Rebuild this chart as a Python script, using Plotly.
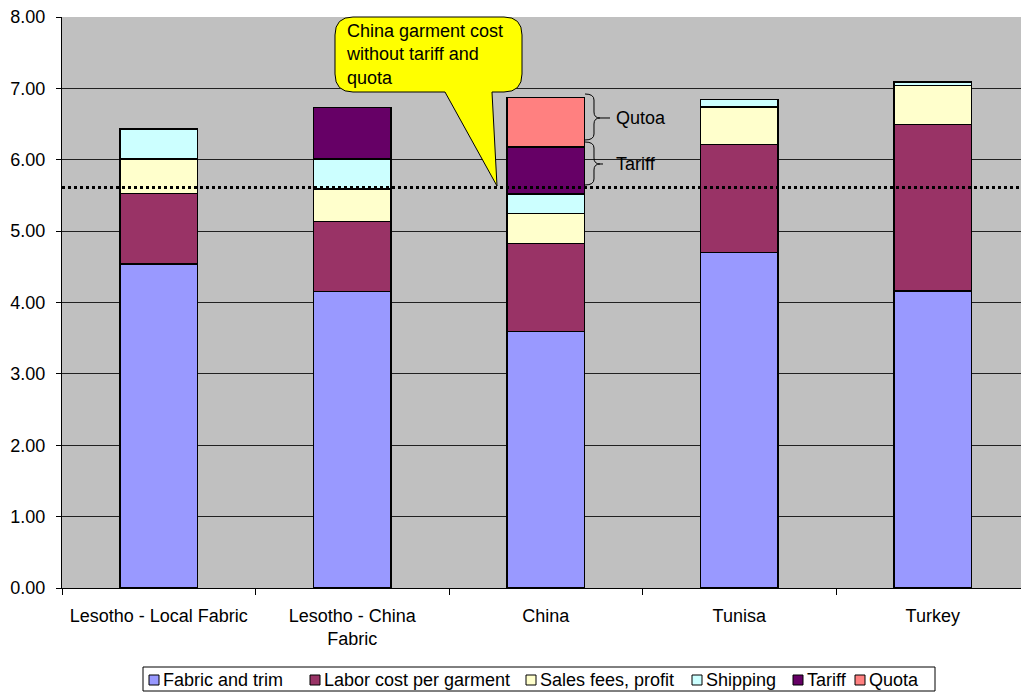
import plotly.graph_objects as go

# ---------------- data ----------------
categories = ["Lesotho - Local Fabric", "Lesotho - China<br>Fabric", "China", "Tunisa", "Turkey"]
series_names = ["Fabric and trim", "Labor cost per garment", "Sales fees, profit",
                "Shipping", "Tariff", "Quota"]
fabric_trim = [4.54, 4.15, 3.59, 4.70, 4.16]
labor_cost = [0.99, 0.99, 1.24, 1.51, 2.33]
sales_fees = [0.48, 0.45, 0.42, 0.53, 0.55]
shipping = [0.42, 0.42, 0.27, 0.10, 0.05]
tariff = [None, 0.72, 0.66, None, None]
quota = [None, None, 0.69, None, None]
china_no_tariff_quota = 5.61
y_ticks = [0, 1, 2, 3, 4, 5, 6, 7, 8]

colors = ["#9999FF", "#993366", "#FFFFCC", "#CCFFFF", "#660066", "#FF8080"]
values = [fabric_trim, labor_cost, sales_fees, shipping, tariff, quota]

W, H = 1021, 692
ML, MR, MT, MB = 62, 0, 17, 104
PW, PH = W - ML - MR, H - MT - MB
FONT = "Liberation Sans, Arial, sans-serif"


def px(x):
    return (x - ML) / PW


def py(y):
    return (H - MB - y) / PH


def pt(x, y):
    return f"{px(x):.5f},{py(y):.5f}"


fig = go.Figure()
for name, vals, col in zip(series_names, values, colors):
    fig.add_trace(go.Bar(
        x=categories, y=vals, name=name,
        marker=dict(color=col, line=dict(color="black", width=1.2)),
        showlegend=False,
    ))

shapes = []
# dotted reference line
shapes.append(dict(type="line", xref="paper", x0=0, x1=1, yref="y",
                   y0=china_no_tariff_quota, y1=china_no_tariff_quota,
                   line=dict(color="black", width=3, dash="dot"), layer="above"))

# callout bubble
L, R, T, B, r = 335, 522, 17, 92, 18
path = (f"M {pt(L + r, T)} L {pt(R - r, T)} Q {pt(R, T)} {pt(R, T + r)} "
        f"L {pt(R, B - r)} Q {pt(R, B)} {pt(R - r, B)} L {pt(492, B)} "
        f"L {pt(497, 186)} L {pt(445, B)} L {pt(L + r, B)} "
        f"Q {pt(L, B)} {pt(L, B - r)} L {pt(L, T + r)} Q {pt(L, T)} {pt(L + r, T)} Z")
shapes.append(dict(type="path", xref="paper", yref="paper", path=path,
                   fillcolor="#FFFF00", line=dict(color="black", width=1), layer="above"))


def brace(x0, xv, xt, yt, ym, yb):
    c = 6
    return (f"M {pt(x0, yt)} Q {pt(xv, yt)} {pt(xv, yt + c)} L {pt(xv, ym - c)} "
            f"Q {pt(xv, ym)} {pt(xv + 6, ym)} L {pt(xt, ym)} "
            f"M {pt(xv + 6, ym)} Q {pt(xv, ym)} {pt(xv, ym + c)} L {pt(xv, yb - c)} "
            f"Q {pt(xv, yb)} {pt(x0, yb)}")


shapes.append(dict(type="path", xref="paper", yref="paper",
                   path=brace(585, 594, 610, 94, 118, 140),
                   line=dict(color="black", width=1), layer="above"))
shapes.append(dict(type="path", xref="paper", yref="paper",
                   path=brace(585, 594, 603, 142, 164, 185),
                   line=dict(color="black", width=1), layer="above"))

annotations = [
    dict(xref="paper", yref="paper", x=px(344), y=py(19), xanchor="left", yanchor="top",
         text="China garment cost<br>without tariff and<br>quota", align="left",
         showarrow=False, font=dict(family=FONT, size=18, color="black")),
    dict(xref="paper", yref="paper", x=px(614), y=py(118), xanchor="left", yanchor="middle",
         text="Qutoa", showarrow=False, font=dict(family=FONT, size=18, color="black")),
    dict(xref="paper", yref="paper", x=px(614), y=py(164), xanchor="left", yanchor="middle",
         text="Tariff", showarrow=False, font=dict(family=FONT, size=18, color="black")),
]

# manual legend (compact, Excel style)
legend_box = (143, 667, 935, 691)
swatch_x = [149, 310, 526, 692, 793, 855]
shapes.append(dict(type="rect", xref="paper", yref="paper",
                   x0=px(legend_box[0]), x1=px(legend_box[2]),
                   y0=py(legend_box[3]), y1=py(legend_box[1]),
                   fillcolor="white", line=dict(color="black", width=1)))
for sx, name, col in zip(swatch_x, series_names, colors):
    shapes.append(dict(type="rect", xref="paper", yref="paper",
                       x0=px(sx), x1=px(sx + 10), y0=py(685), y1=py(675),
                       fillcolor=col, line=dict(color="black", width=1)))
    annotations.append(dict(xref="paper", yref="paper", x=px(sx + 12), y=py(680),
                            xanchor="left", yanchor="middle", text=name, showarrow=False,
                            font=dict(family=FONT, size=18, color="black")))

fig.update_layout(
    barmode="stack",
    bargap=0.6,
    width=W, height=H,
    margin=dict(l=ML, r=MR, t=MT, b=MB),
    paper_bgcolor="white",
    plot_bgcolor="#C0C0C0",
    font=dict(family=FONT, size=18, color="black"),
    shapes=shapes,
    annotations=annotations,
    showlegend=False,
    xaxis=dict(type="category", range=[-0.5, 4.456], tickson="boundaries",
               ticks="outside", ticklen=6, tickcolor="black", showline=True,
               linecolor="black", linewidth=1, showgrid=False, ticklabelstandoff=11,
               tickfont=dict(family=FONT, size=18, color="black")),
    yaxis=dict(range=[0, 8], tickvals=y_ticks, tickformat=".2f", ticks="outside",
               ticklen=5, tickcolor="black", showline=True, linecolor="black",
               linewidth=1, showgrid=True, gridcolor="#202020", gridwidth=1,
               zeroline=False, ticklabelstandoff=7,
               tickfont=dict(family=FONT, size=18, color="black")),
)

fig.write_html("out.html")
